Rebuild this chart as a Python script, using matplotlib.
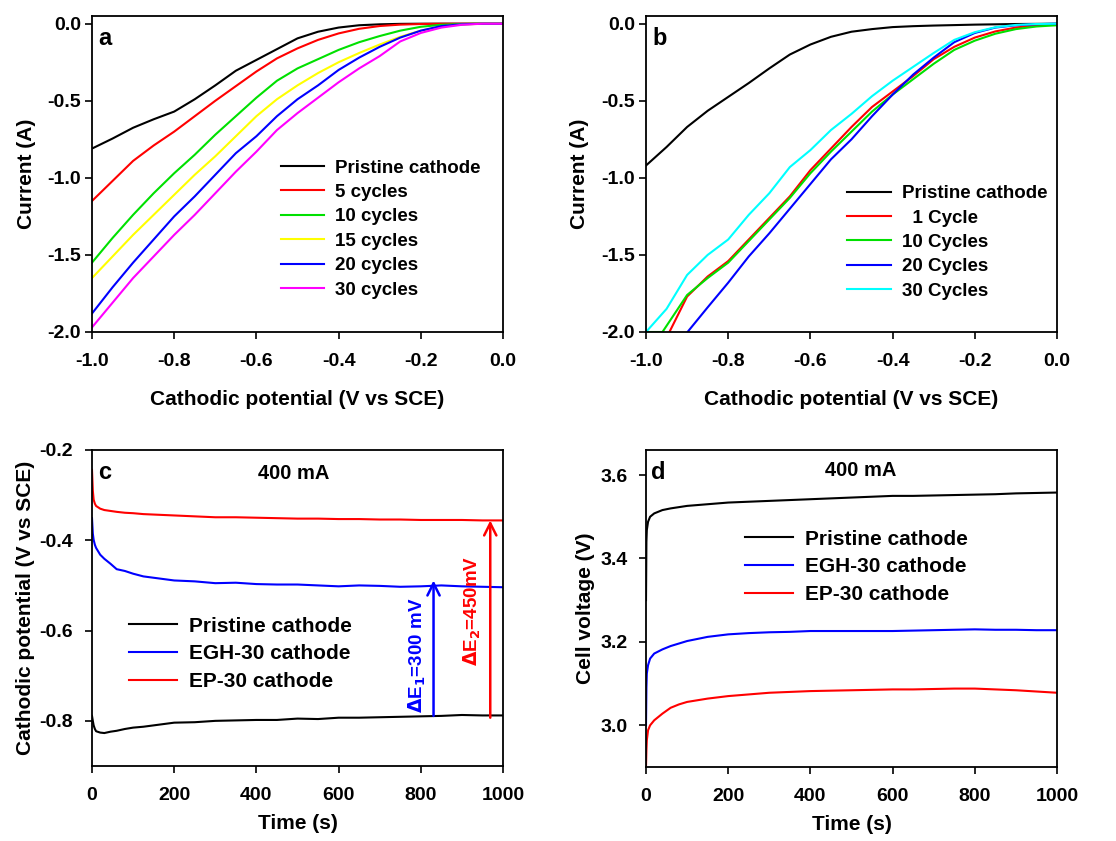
import numpy as np
import matplotlib
matplotlib.use("Agg")
import matplotlib.pyplot as plt

plt.rcParams["font.family"] = ["Liberation Sans", "DejaVu Sans"]
plt.rcParams["font.weight"] = "bold"
plt.rcParams["axes.labelweight"] = "bold"
plt.rcParams["mathtext.default"] = "bf"

# --- (a) LSV after different numbers of cycles ---
pot_a = [-1.0, -0.95, -0.9, -0.85, -0.8, -0.75, -0.7, -0.65, -0.6, -0.55,
         -0.5, -0.45, -0.4, -0.35, -0.3, -0.25, -0.2, -0.15, -0.1, -0.05, 0.0]
lsv_a = {
    "Pristine cathode": [-0.81, -0.745, -0.675, -0.62, -0.57, -0.49, -0.40, -0.305,
                         -0.235, -0.165, -0.095, -0.052, -0.025, -0.01, -0.004,
                         -0.001, 0.0, 0.0, 0.0, 0.0, 0.0],
    "5 cycles": [-1.15, -1.02, -0.89, -0.79, -0.70, -0.60, -0.50, -0.405, -0.31,
                 -0.225, -0.16, -0.105, -0.063, -0.033, -0.015, -0.006, -0.002,
                 0.0, 0.0, 0.0, 0.0],
    "10 cycles": [-1.55, -1.39, -1.24, -1.10, -0.97, -0.85, -0.72, -0.60, -0.48,
                  -0.37, -0.29, -0.23, -0.17, -0.12, -0.08, -0.045, -0.02,
                  -0.007, -0.002, 0.0, 0.0],
    "15 cycles": [-1.65, -1.51, -1.37, -1.24, -1.11, -0.98, -0.86, -0.73, -0.60,
                  -0.49, -0.40, -0.32, -0.25, -0.19, -0.135, -0.085, -0.045,
                  -0.018, -0.005, 0.0, 0.0],
    "20 cycles": [-1.88, -1.71, -1.55, -1.40, -1.25, -1.12, -0.98, -0.84, -0.73,
                  -0.60, -0.49, -0.40, -0.30, -0.22, -0.15, -0.09, -0.045,
                  -0.015, -0.004, 0.0, 0.0],
    "30 cycles": [-1.97, -1.81, -1.65, -1.51, -1.37, -1.24, -1.10, -0.96, -0.83,
                  -0.69, -0.58, -0.48, -0.38, -0.29, -0.21, -0.115, -0.06,
                  -0.025, -0.007, 0.0, 0.0],
}
colors_a = ["black", "#ff0000", "#00e000", "#ffff00", "#0000ff", "#ff00ff"]

# --- (b) LSV of the durable cathode ---
pot_b = [-1.0, -0.95, -0.9, -0.85, -0.8, -0.75, -0.7, -0.65, -0.6, -0.55,
         -0.5, -0.45, -0.4, -0.35, -0.3, -0.25, -0.2, -0.15, -0.1, -0.05, 0.0]
cur_b_pristine = [-0.92, -0.80, -0.67, -0.565, -0.475, -0.385, -0.29, -0.20,
                  -0.135, -0.085, -0.052, -0.035, -0.022, -0.016, -0.012,
                  -0.009, -0.006, -0.004, -0.002, -0.001, 0.0]
cur_b_30 = [-2.0, -1.85, -1.63, -1.50, -1.40, -1.24, -1.10, -0.93, -0.82,
            -0.69, -0.585, -0.47, -0.37, -0.28, -0.19, -0.105, -0.055,
            -0.023, -0.008, -0.002, 0.0]
pot_b_1 = [-0.943, -0.9, -0.85, -0.8, -0.75, -0.7, -0.65, -0.6, -0.55, -0.5,
           -0.45, -0.4, -0.35, -0.3, -0.25, -0.2, -0.15, -0.1, -0.05, 0.0]
cur_b_1 = [-2.0, -1.77, -1.64, -1.54, -1.40, -1.26, -1.12, -0.95, -0.81, -0.67,
           -0.54, -0.44, -0.34, -0.23, -0.15, -0.09, -0.05, -0.025, -0.01, -0.005]
pot_b_10 = [-1.0, -0.96, -0.95, -0.9, -0.85, -0.8, -0.75, -0.7, -0.65, -0.6,
            -0.55, -0.5, -0.45, -0.4, -0.35, -0.3, -0.25, -0.2, -0.15, -0.1,
            -0.05, 0.0]
cur_b_10 = [-2.0, -2.0, -1.96, -1.76, -1.65, -1.55, -1.41, -1.27, -1.13, -0.97,
            -0.83, -0.70, -0.57, -0.46, -0.36, -0.26, -0.17, -0.11, -0.065,
            -0.035, -0.018, -0.01]
pot_b_20 = [-0.899, -0.85, -0.8, -0.75, -0.7, -0.65, -0.6, -0.55, -0.5, -0.45,
            -0.4, -0.35, -0.3, -0.25, -0.2, -0.15, -0.1, -0.05, 0.0]
cur_b_20 = [-2.0, -1.84, -1.68, -1.51, -1.36, -1.20, -1.04, -0.88, -0.75, -0.60,
            -0.46, -0.33, -0.22, -0.12, -0.06, -0.025, -0.01, -0.003, 0.0]

# --- (c) cathodic potential at 400 mA ---
t_c = [0, 2, 4, 7, 10, 20, 30, 45, 60, 80, 100, 125, 150, 200, 250, 300, 350,
       400, 450, 500, 550, 600, 650, 700, 750, 800, 850, 900, 950, 1000]
pot_c_ep = [-0.244, -0.29, -0.31, -0.319, -0.324, -0.330, -0.333, -0.335,
            -0.337, -0.339, -0.340, -0.342, -0.343, -0.345, -0.347, -0.349,
            -0.349, -0.350, -0.351, -0.352, -0.352, -0.353, -0.353, -0.354,
            -0.354, -0.355, -0.355, -0.355, -0.356, -0.356]
pot_c_egh = [-0.351, -0.385, -0.399, -0.410, -0.417, -0.432, -0.441, -0.452,
             -0.464, -0.468, -0.474, -0.480, -0.483, -0.489, -0.491, -0.495,
             -0.494, -0.497, -0.498, -0.498, -0.500, -0.502, -0.500, -0.501,
             -0.503, -0.502, -0.500, -0.502, -0.503, -0.504]
pot_c_pristine = [-0.789, -0.800, -0.810, -0.818, -0.823, -0.826, -0.827,
                  -0.824, -0.822, -0.818, -0.815, -0.813, -0.810, -0.804,
                  -0.803, -0.800, -0.799, -0.798, -0.798, -0.795, -0.796,
                  -0.793, -0.793, -0.792, -0.791, -0.790, -0.789, -0.787,
                  -0.788, -0.788]

# --- (d) cell voltage at 400 mA ---
t_d = [0, 1, 2, 5, 10, 20, 40, 60, 80, 100, 125, 150, 175, 200, 250, 300,
       350, 400, 450, 500, 550, 600, 650, 700, 750, 800, 850, 900, 950, 1000]
v_d_pristine = [3.30, 3.44, 3.468, 3.488, 3.500, 3.508, 3.516, 3.520, 3.523,
                3.526, 3.528, 3.530, 3.532, 3.534, 3.536, 3.538, 3.540, 3.542,
                3.544, 3.546, 3.548, 3.550, 3.550, 3.551, 3.552, 3.553, 3.554,
                3.556, 3.557, 3.558]
v_d_egh = [3.00, 3.09, 3.124, 3.144, 3.160, 3.172, 3.182, 3.190, 3.196, 3.202,
           3.207, 3.212, 3.215, 3.218, 3.221, 3.223, 3.224, 3.226, 3.226, 3.226,
           3.226, 3.226, 3.227, 3.228, 3.229, 3.230, 3.229, 3.229, 3.228, 3.228]
v_d_ep = [2.90, 2.94, 2.964, 2.988, 3.000, 3.012, 3.028, 3.042, 3.050, 3.056,
          3.060, 3.064, 3.067, 3.070, 3.074, 3.078, 3.080, 3.082, 3.083, 3.084,
          3.085, 3.086, 3.086, 3.087, 3.088, 3.088, 3.086, 3.084, 3.081, 3.078]

dE1, dE2 = 300, 450
t_arrow1, t_arrow2 = 831, 969

tick_fs = 14
label_fs = 15
lw = 1.5

fig = plt.figure(figsize=(11.16, 8.41), dpi=100)
ax_a = fig.add_axes([92 / 1116, 1 - 332 / 841, 411 / 1116, 316 / 841])
ax_b = fig.add_axes([646 / 1116, 1 - 332 / 841, 411 / 1116, 316 / 841])
ax_c = fig.add_axes([92 / 1116, 1 - 766 / 841, 411 / 1116, 316 / 841])
ax_d = fig.add_axes([646 / 1116, 1 - 767 / 841, 411 / 1116, 317 / 841])


def style(ax, xpad, ypad):
    ax.tick_params(direction="out", length=5, width=1.2, labelsize=tick_fs,
                   top=False, right=False)
    ax.tick_params(axis="x", pad=xpad)
    ax.tick_params(axis="y", pad=ypad)
    for s in ax.spines.values():
        s.set_linewidth(1.3)
    for lab in ax.get_xticklabels() + ax.get_yticklabels():
        lab.set_fontweight("bold")


# panel a
for (name, vals), c in zip(lsv_a.items(), colors_a):
    ax_a.plot(pot_a, vals, color=c, lw=lw, label=name)
ax_a.set_xlim(-1.0, 0.0)
ax_a.set_ylim(-2.0, 0.05)
ax_a.set_xticks([-1.0, -0.8, -0.6, -0.4, -0.2, 0.0])
ax_a.set_yticks([0.0, -0.5, -1.0, -1.5, -2.0])
ax_a.set_xticklabels(["-1.0", "-0.8", "-0.6", "-0.4", "-0.2", "0.0"])
ax_a.set_yticklabels(["0.0", "-0.5", "-1.0", "-1.5", "-2.0"])
ax_a.set_xlabel("Cathodic potential (V vs SCE)", fontsize=label_fs, labelpad=14.5)
ax_a.set_ylabel("Current (A)", fontsize=label_fs, labelpad=8)
ax_a.text(0.015, 0.93, "a", transform=ax_a.transAxes, fontsize=17,
          fontweight="bold", va="center")
ax_a.legend(loc="upper left", bbox_to_anchor=(0.46, 0.546), frameon=False,
            fontsize=13.5, handlelength=2.3, handletextpad=0.6,
            labelspacing=0.39, borderpad=0, borderaxespad=0)
style(ax_a, 10, 3)

# panel b
ax_b.plot(pot_b, cur_b_pristine, color="black", lw=lw, label="Pristine cathode")
ax_b.plot(pot_b_1, cur_b_1, color="#ff0000", lw=lw, label="  1 Cycle")
ax_b.plot(pot_b_10, cur_b_10, color="#00e000", lw=lw, label="10 Cycles")
ax_b.plot(pot_b_20, cur_b_20, color="#0000ff", lw=lw, label="20 Cycles")
ax_b.plot(pot_b, cur_b_30, color="#00ffff", lw=lw, label="30 Cycles")
ax_b.set_xlim(-1.0, 0.0)
ax_b.set_ylim(-2.0, 0.05)
ax_b.set_xticks([-1.0, -0.8, -0.6, -0.4, -0.2, 0.0])
ax_b.set_yticks([0.0, -0.5, -1.0, -1.5, -2.0])
ax_b.set_xticklabels(["-1.0", "-0.8", "-0.6", "-0.4", "-0.2", "0.0"])
ax_b.set_yticklabels(["0.0", "-0.5", "-1.0", "-1.5", "-2.0"])
ax_b.set_xlabel("Cathodic potential (V vs SCE)", fontsize=label_fs, labelpad=14.5)
ax_b.set_ylabel("Current (A)", fontsize=label_fs, labelpad=9)
ax_b.text(0.015, 0.93, "b", transform=ax_b.transAxes, fontsize=17,
          fontweight="bold", va="center")
ax_b.legend(loc="upper left", bbox_to_anchor=(0.49, 0.465), frameon=False,
            fontsize=13.5, handlelength=2.3, handletextpad=0.6,
            labelspacing=0.39, borderpad=0, borderaxespad=0)
style(ax_b, 10, 3)

# panel c
ax_c.plot(t_c, pot_c_pristine, color="black", lw=lw, label="Pristine cathode")
ax_c.plot(t_c, pot_c_egh, color="#0000ff", lw=lw, label="EGH-30 cathode")
ax_c.plot(t_c, pot_c_ep, color="#ff0000", lw=lw, label="EP-30 cathode")
base1 = pot_c_pristine[t_c.index(850)]
base2 = pot_c_pristine[t_c.index(950)]
ax_c.annotate("", xy=(t_arrow1, base1 + dE1 / 1000), xytext=(t_arrow1, base1),
              arrowprops=dict(arrowstyle="->", color="#0000ff", lw=1.8,
                              mutation_scale=22, shrinkA=0, shrinkB=0))
ax_c.annotate("", xy=(t_arrow2, base2 + dE2 / 1000 - 0.018), xytext=(t_arrow2, base2 - 0.005),
              arrowprops=dict(arrowstyle="->", color="#ff0000", lw=1.8,
                              mutation_scale=22, shrinkA=0, shrinkB=0))
ax_c.text(791, -0.654, r"$\Delta$E$_1$=300 mV", color="#0000ff", rotation=90,
          fontsize=13.5, fontweight="bold", ha="center", va="center")
ax_c.text(925, -0.557, r"$\Delta$E$_2$=450mV", color="#ff0000", rotation=90,
          fontsize=13.5, fontweight="bold", ha="center", va="center")
ax_c.set_xlim(0, 1000)
ax_c.set_ylim(-0.9, -0.2)
ax_c.set_xticks([0, 200, 400, 600, 800, 1000])
ax_c.set_yticks([-0.2, -0.4, -0.6, -0.8])
ax_c.set_yticklabels(["-0.2", "-0.4", "-0.6", "-0.8"])
ax_c.set_xlabel("Time (s)", fontsize=label_fs, labelpad=7)
ax_c.set_ylabel("Cathodic potential (V vs SCE)", fontsize=label_fs, labelpad=2.5)
ax_c.text(0.015, 0.93, "c", transform=ax_c.transAxes, fontsize=17,
          fontweight="bold", va="center")
ax_c.text(0.49, 0.927, "400 mA", transform=ax_c.transAxes, fontsize=14.5,
          fontweight="bold", ha="center", va="center")
ax_c.legend(loc="upper left", bbox_to_anchor=(0.09, 0.473), frameon=False,
            fontsize=15, handlelength=2.3, handletextpad=0.6,
            labelspacing=0.42, borderpad=0, borderaxespad=0)
style(ax_c, 10, 9)

# panel d
ax_d.plot(t_d, v_d_pristine, color="black", lw=lw, label="Pristine cathode")
ax_d.plot(t_d, v_d_egh, color="#0000ff", lw=lw, label="EGH-30 cathode")
ax_d.plot(t_d, v_d_ep, color="#ff0000", lw=lw, label="EP-30 cathode")
ax_d.set_xlim(0, 1000)
ax_d.set_ylim(2.9, 3.66)
ax_d.set_xticks([0, 200, 400, 600, 800, 1000])
ax_d.set_yticks([3.0, 3.2, 3.4, 3.6])
ax_d.set_xlabel("Time (s)", fontsize=label_fs, labelpad=7)
ax_d.set_ylabel("Cell voltage (V)", fontsize=label_fs, labelpad=4)
ax_d.text(0.012, 0.93, "d", transform=ax_d.transAxes, fontsize=17,
          fontweight="bold", va="center")
ax_d.text(0.523, 0.934, "400 mA", transform=ax_d.transAxes, fontsize=14.5,
          fontweight="bold", ha="center", va="center")
ax_d.legend(loc="upper left", bbox_to_anchor=(0.24, 0.749), frameon=False,
            fontsize=15, handlelength=2.3, handletextpad=0.6,
            labelspacing=0.42, borderpad=0, borderaxespad=0)
style(ax_d, 10, 8)

fig.savefig("out.png", dpi=100, facecolor="white")
